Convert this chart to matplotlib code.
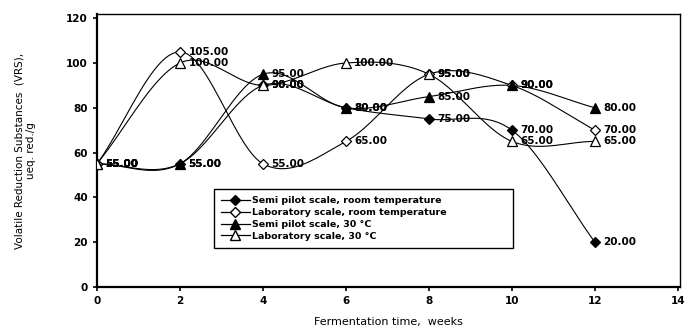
import numpy as np
import matplotlib
matplotlib.use("Agg")
import matplotlib.pyplot as plt
from matplotlib.lines import Line2D

weeks = [0, 2, 4, 6, 8, 10, 12]
semi_room = [55, 55, 90, 80, 75, 70, 20]
lab_room = [55, 105, 55, 65, 95, 90, 70]
semi_30 = [55, 55, 95, 80, 85, 90, 80]
lab_30 = [55, 100, 90, 100, 95, 65, 65]
series_names = ["Semi pilot scale, room temperature",
                "Laboratory scale, room temperature",
                "Semi pilot scale, 30 \u00b0C",
                "Laboratory scale, 30 \u00b0C"]
xticks = [0, 2, 4, 6, 8, 10, 12, 14]
yticks = [0, 20, 40, 60, 80, 100, 120]


def smooth(x, y, n=24):
    x = np.asarray(x, float); y = np.asarray(y, float)
    px = np.concatenate([[2 * x[0] - x[1]], x, [2 * x[-1] - x[-2]]])
    py = np.concatenate([[2 * y[0] - y[1]], y, [2 * y[-1] - y[-2]]])
    xs, ys = [], []
    t = np.linspace(0, 1, n)
    for i in range(1, len(px) - 2):
        p0, p1, p2, p3 = [np.array([px[j], py[j]]) for j in (i - 1, i, i + 1, i + 2)]
        b1 = p1 + (p2 - p0) / 6.0
        b2 = p2 - (p3 - p1) / 6.0
        pts = ((1 - t)[:, None] ** 3 * p1 + 3 * ((1 - t) ** 2 * t)[:, None] * b1
               + 3 * ((1 - t) * t ** 2)[:, None] * b2 + (t ** 3)[:, None] * p2)
        xs.extend(pts[:, 0]); ys.extend(pts[:, 1])
    return xs, ys


fig = plt.figure(figsize=(6.85, 3.29), dpi=100)
ax = fig.add_axes([0.1416, 0.1277, 0.8511, 0.8293])

styles = [
    dict(marker="D", mfc="black", mec="black", ms=5),
    dict(marker="D", mfc="white", mec="black", ms=5),
    dict(marker="^", mfc="black", mec="black", ms=7),
    dict(marker="^", mfc="white", mec="black", ms=7),
]
all_series = [semi_room, lab_room, semi_30, lab_30]
handles = []
for vals, st, name in zip(all_series, styles, series_names):
    sx, sy = smooth(weeks, vals)
    ax.plot(sx, sy, color="black", lw=0.8, zorder=2)
    ax.plot(weeks, vals, ls="none", mew=0.9, zorder=3, **st)
    for xv, yv in zip(weeks, vals):
        ax.annotate(f"{yv:.2f}", (xv, yv), xytext=(6, 0), textcoords="offset points",
                    ha="left", va="center", fontsize=7.5, fontweight="bold",
                    family="DejaVu Sans", color="black", zorder=4)
    handles.append(Line2D([0], [0], color="black", lw=0.9, **st))

ax.set_xlim(0, 14.05)
ax.set_ylim(0, 121.8)
ax.set_xticks(xticks)
ax.set_yticks(yticks)
ax.tick_params(direction="out", length=3, width=1.2, labelsize=7.5)
for lab in ax.get_xticklabels() + ax.get_yticklabels():
    lab.set_fontweight("bold")
for s in ["left", "bottom"]:
    ax.spines[s].set_linewidth(1.6)
for s in ["top", "right"]:
    ax.spines[s].set_linewidth(1.0)

ax.set_xlabel("Fermentation time,  weeks", fontsize=8, labelpad=8)
ax.set_ylabel("Volatile Reduction Substances  (VRS),\nueq. red./g", fontsize=7.5, labelpad=22)

leg = ax.legend(handles, series_names, loc="center",
                bbox_to_anchor=(0.192, 0.125, 0.53, 0.252), mode="expand",
                frameon=True, fancybox=False, edgecolor="black", framealpha=1,
                borderpad=0.8, labelspacing=0.3, handlelength=3, handletextpad=0.3,
                prop={"weight": "bold", "size": 6.8})
leg.get_frame().set_linewidth(1.0)
leg.set_zorder(5)

fig.savefig("out.png", dpi=100)
